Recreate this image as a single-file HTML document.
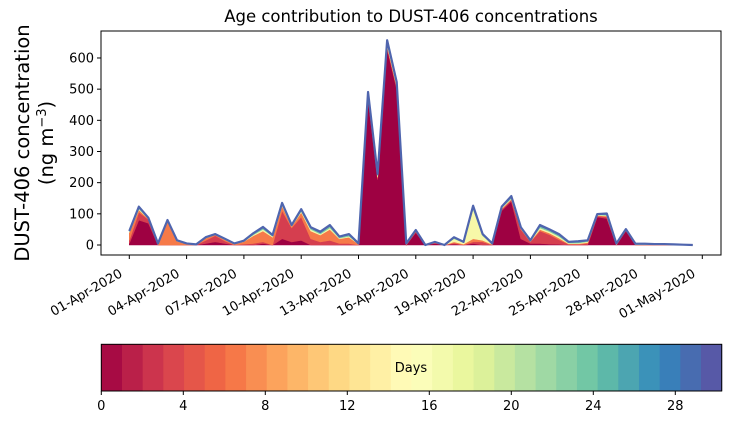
<!DOCTYPE html>
<html><head><meta charset="utf-8">
<style>
body{margin:0;background:#fff;}
svg{display:block;font-family:"DejaVu Sans","Liberation Sans",sans-serif;}
</style></head>
<body>
<svg id="chart" width="730" height="425" viewBox="0 0 730 425">
<text x="411" y="22" font-size="16.5" text-anchor="middle">Age contribution to DUST-406 concentrations</text>
<g id="plot"></g>
<g id="cbar"></g>
<text transform="translate(29,143) rotate(-90)" font-size="19.5" text-anchor="middle">DUST-406 concentration</text>
<text transform="translate(53,143) rotate(-90)" font-size="19.5" text-anchor="middle">(ng m<tspan baseline-shift="super" font-size="13">−3</tspan>)</text>
</svg>
<script>
const dates=["01-Apr-2020","04-Apr-2020","07-Apr-2020","10-Apr-2020","13-Apr-2020","16-Apr-2020","19-Apr-2020","22-Apr-2020","25-Apr-2020","28-Apr-2020","01-May-2020"];
const yTicks=[0,100,200,300,400,500,600];
const cbTicks=[0,4,8,12,16,20,24,28];
const age0_2=[5,80,70,0,0,0,0,0,5,10,5,0,0,0,5,0,20,10,15,0,0,0,0,0,0,470,210,630,500,0,40,0,5,0,3,0,5,0,0,110,140,20,5,5,3,2,0,0,0,90,85,0,45,0,0,0,0,0,0,0];
const age2_6=[10,25,12,0,0,0,0,0,10,20,8,0,3,5,5,0,90,45,75,20,10,15,5,5,0,5,5,5,5,0,3,0,2,0,3,0,5,10,0,5,5,30,5,40,30,15,2,2,5,3,5,0,2,0,0,0,0,0,0,0];
const age6_12=[25,8,2,3,75,12,3,1,7,3,4,3,8,25,35,25,15,5,15,25,22,35,15,20,3,3,3,5,5,3,2,0,1,0,4,3,10,5,2,2,2,2,2,5,5,5,2,2,3,2,3,1,1,1,1,1,1,1,1,0];
const age12_18=[3,3,1,1,2,1,1,0,1,1,1,1,1,3,5,3,3,1,3,5,3,5,2,3,1,3,3,5,3,1,1,0,1,0,10,5,95,15,2,3,2,2,2,5,5,5,2,2,3,2,2,1,1,1,1,1,1,0,0,0];
const age18_24=[1,4,1,1,2,1,1,1,1,1,1,1,1,3,4,2,4,2,4,4,4,5,3,4,1,5,4,6,5,1,1,0,1,0,3,1,6,3,1,2,4,2,1,5,4,4,2,3,2,1,3,2,1,1,1,1,1,1,0,0];
const age24_30=[1,3,1,0,1,1,0,0,1,0,1,0,1,2,4,2,3,1,3,3,4,4,2,3,0,5,3,6,5,0,1,0,0,0,2,1,5,2,0,1,4,1,0,4,3,4,2,3,2,1,3,1,1,1,1,0,0,0,0,0];
const layers=[age0_2,age2_6,age6_12,age12_18,age18_24,age24_30];
const layerColors=["#9e0142","#d53e4f","#f67a49","#f7f8a8","#7fcca5","#4a6fb5"];
const NS="http://www.w3.org/2000/svg";
function mk(t,a,p){const e=document.createElementNS(NS,t);for(const k in a)e.setAttribute(k,a[k]);p.appendChild(e);return e;}
const L=101,R=721,T=31,B=255;
const x0=129.3,dayPx=19.1;
const xs=i=>x0+i*0.5*dayPx;
const ys=v=>245-v*0.3117;
const plot=document.getElementById('plot');
const n=age0_2.length;
let base=new Array(n).fill(0);
layers.forEach((ly,k)=>{
  const top=base.map((b,i)=>b+ly[i]);
  let d="M"+xs(0)+","+ys(base[0]);
  for(let i=0;i<n;i++)d+=" L"+xs(i)+","+ys(top[i]);
  for(let i=n-1;i>=0;i--)d+=" L"+xs(i)+","+ys(base[i]);
  const p=mk('path',{d:d+"Z",fill:layerColors[k],stroke:layerColors[k],'stroke-width':0.6},plot);
  
  
  base=top;
});
let ld="";
for(let i=0;i<n;i++)ld+=(i?" L":"M")+xs(i)+","+ys(base[i]);
const tl=mk('path',{d:ld,fill:'none',stroke:'#4f65ae','stroke-width':2.2,'stroke-linejoin':'round'},plot);


const fr=mk('rect',{x:L,y:T,width:R-L,height:B-T,fill:'none',stroke:'#000','stroke-width':1},plot);


yTicks.forEach(v=>{
  const y=ys(v);
  const l=mk('line',{x1:L-4,x2:L,y1:y,y2:y,stroke:'#000'},plot);
  
  
  const t=mk('text',{x:L-7,y:y+4.5,'font-size':13,'text-anchor':'end'},plot);
  t.textContent=v;
  
  
});
dates.forEach((d,j)=>{
  const x=x0+j*3*dayPx;
  const l=mk('line',{x1:x,x2:x,y1:B,y2:B+4,stroke:'#000'},plot);
  
  
  const t=mk('text',{transform:`translate(${x-6},${B+21}) rotate(-30)`,'font-size':13,'text-anchor':'end'},plot);
  t.textContent=d;
  
  
});
const spec=["#9e0142","#d53e4f","#f46d43","#fdae61","#fee08b","#ffffbf","#e6f598","#abdda4","#66c2a5","#3288bd","#5e4fa2"];
function hex(h){return [1,3,5].map(i=>parseInt(h.substr(i,2),16));}
function cmap(t){const s=t*10,i=Math.min(9,Math.floor(s)),f=s-i;const a=hex(spec[i]),b=hex(spec[i+1]);return `rgb(${a.map((v,k)=>Math.round(v+(b[k]-v)*f)).join(',')})`;}
const cb=document.getElementById('cbar');
const cL=101.3,cR=721.7,cT=344.3,cB=391;
const cw=(cR-cL)/30;
for(let k=0;k<30;k++){
  const r=mk('rect',{x:cL+k*cw,y:cT,width:cw+0.5,height:cB-cT,fill:cmap((k+0.5)/30)},cb);
  
  
}
const cf=mk('rect',{x:cL,y:cT,width:cR-cL,height:cB-cT,fill:'none',stroke:'#000'},cb);


cbTicks.forEach(v=>{
  const x=cL+v*20.5;
  const l=mk('line',{x1:x,x2:x,y1:cB,y2:cB+4,stroke:'#000'},cb);
  
  
  const t=mk('text',{x:x,y:cB+19,'font-size':13,'text-anchor':'middle'},cb);
  t.textContent=v;
  
  
});
const dl=mk('text',{x:411,y:372,'font-size':13,'text-anchor':'middle'},cb);
dl.textContent="Days";


</script>
</body></html>
